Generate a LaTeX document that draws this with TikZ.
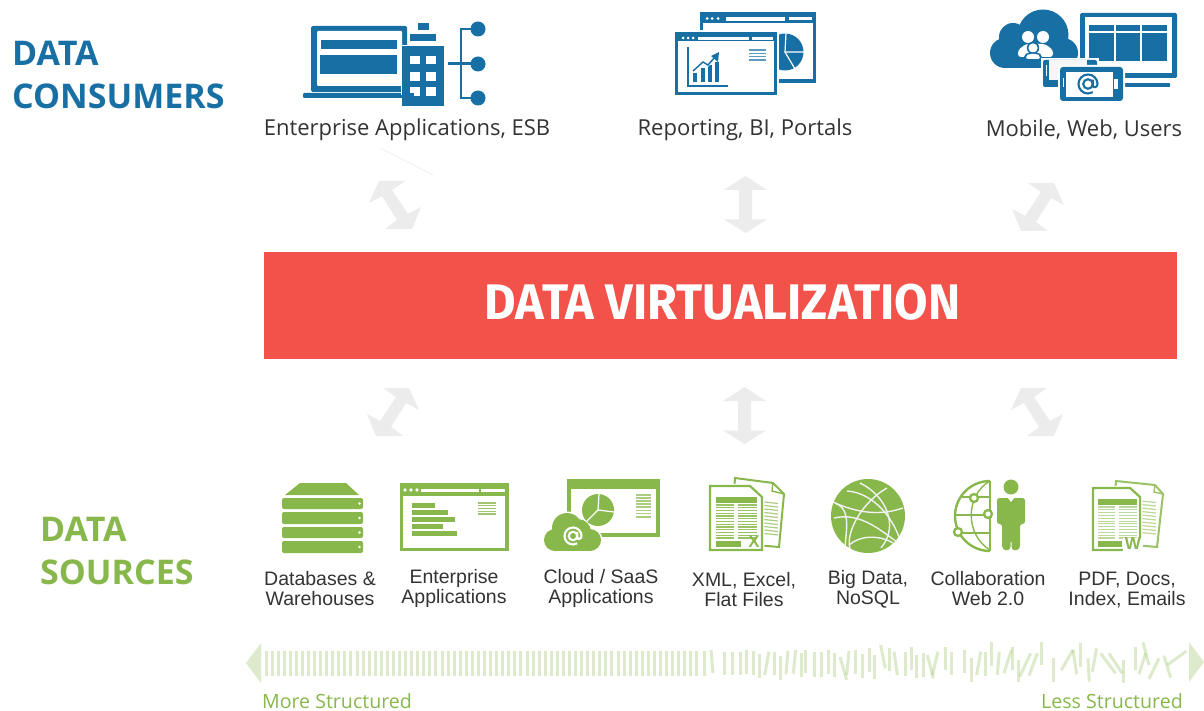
\documentclass[tikz,border=0pt]{standalone}
\usepackage{fontspec}
\setmainfont{Liberation Sans}
\newfontfamily\headf{Open Sans}
\newfontfamily\labf{Open Sans}
\newfontfamily\banf{Fira Sans}
\definecolor{cblue}{HTML}{176FA4}
\definecolor{cgreen}{HTML}{88B84B}
\definecolor{cred}{HTML}{F2524A}
\definecolor{carrow}{HTML}{ECECEC}
\definecolor{ctext}{HTML}{333333}
\newcommand{\stripes}[6]{% x1 y1 x2 y2 n colour
  \foreach \i in {0,...,#5}{\pgfmathsetmacro{\yy}{#2+\i*(#4-#2)/#5}\draw[#6,line width=1.1] (#1,\yy) -- (#3,\yy);}}
\newcommand{\atsign}[4]{% x y scale colour
  \begin{scope}[shift={(#1,#2)},scale=#3]
  \draw[#4,line width=2.1] (0,0) circle (3.4);
  \draw[#4,line width=2.1] (3.4,-3.2) -- (3.4,1.2) .. controls (3.6,3) and (6.8,2.6) .. (6.8,0) arc[start angle=0,end angle=-300,radius=6.8];
  \end{scope}}
\tikzset{
  x=1pt,y=-1pt,
  bf/.style={fill=cblue,draw=none},
  gf/.style={fill=cgreen,draw=none},
  wf/.style={fill=white,draw=none},
  bigarrow/.style={fill=carrow,draw=none},
  wave/.style={draw=cgreen,opacity=.28,line width=3},
  headtext/.style={font=\headf\bfseries\fontsize{34}{38}\selectfont,anchor=west,inner sep=0},
  context/.style={font=\labf\fontsize{22}{26}\selectfont,text=ctext,inner sep=0,anchor=base},
  srctext/.style={font=\fontsize{19.5}{20}\selectfont,text=ctext,align=center,inner sep=0},
  endtext/.style={font=\labf\fontsize{19.6}{22}\selectfont,text=cgreen,inner sep=0,anchor=base},
}
\begin{document}
\begin{tikzpicture}
\useasboundingbox (0,0) rectangle (1204,711);
\fill[white] (0,0) rectangle (1204,711);
% headings
\node[headtext,text=cblue] (hc1) at (12,53) {DATA};
\node[headtext,text=cblue] (hc2) at (12,96) {CONSUMERS};
\node[headtext,text=cgreen] (hs1) at (40,529) {DATA};
\node[headtext,text=cgreen] (hs2) at (40,572) {SOURCES};
% band
\node[fill=cred,minimum width=913,minimum height=107,inner sep=0,anchor=north west] (dv) at (264,252) {};
\node[font=\banf\bfseries\fontsize{50}{54}\selectfont,text=white,inner sep=0] (dvt) at (722.5,302) {\scalebox{0.97}[1]{DATA VIRTUALIZATION}};
% consumer labels
\node[context] (c1) at (407,136) {Enterprise Applications, ESB};
\node[context] (c2) at (745,136) {Reporting, BI, Portals};
\node[context] (c3) at (1084,137) {Mobile, Web, Users};
% faint stroke
\coordinate (fa) at (380,148); \coordinate (fb) at (433,175);
\draw[carrow,line width=.6] (fa) -- (fb);
% arrows
\coordinate (a1) at (395,205);\coordinate (a3) at (1038,207);\coordinate (a4) at (393,412);\coordinate (a6) at (1037,412);
\coordinate (a2) at (745.5,205);\coordinate (a5) at (744.5,416);
\def\diag{(-16,-24) -- (10,-24) -- (-3,-15) -- (13,9) -- (26,2) -- (17,24) -- (-10,24) -- (2,15) -- (-13,-9) -- (-26,-2) -- cycle}
\def\vert{(0,-29) -- (21.5,-15) -- (6.5,-15) -- (6.5,14.5) -- (21.5,14.5) -- (0,28) -- (-21.5,14.5) -- (-6.5,14.5) -- (-6.5,-15) -- (-21.5,-15) -- cycle}
\begin{scope}[shift={(a1)}]\fill[bigarrow] \diag;\end{scope}
\begin{scope}[shift={(a3)},xscale=-1]\fill[bigarrow] \diag;\end{scope}
\begin{scope}[shift={(a4)},xscale=-1]\fill[bigarrow] \diag;\end{scope}
\begin{scope}[shift={(a6)}]\fill[bigarrow] \diag;\end{scope}
\begin{scope}[shift={(a2)}]\fill[bigarrow] \vert;\end{scope}
\begin{scope}[shift={(a5)}]\fill[bigarrow] \vert;\end{scope}

% ---- enterprise icon
\fill[bf,rounded corners=1.5] (311,26) rectangle (407,92);
\fill[wf,rounded corners=1] (317,31) rectangle (402,86);
\fill[bf] (321,40) rectangle (397,49);
\fill[bf] (320,55) rectangle (397,74);
\fill[bf,rounded corners=1] (303,93) rectangle (415,98);
\fill[white] (401,45) rectangle (445,95);
\fill[bf] (402,46) rectangle (444,106);
\fill[bf] (410,34) rectangle (436,41);
\fill[bf] (418,23) rectangle (429,30);
\foreach \y/\h in {56/64,72/81,87/96}{
  \fill[wf] (410,\y) rectangle (420,\h);
  \fill[wf] (426,\y) rectangle (436,\h);}
\fill[bf] (403,93) rectangle (414,98);
\draw[cblue,line width=2.2] (478,29) -- (461,29) -- (461,98) -- (478,98);
\draw[cblue,line width=2.2] (448,63.5) -- (478,63.5);
\foreach \y in {29,64,98}{\fill[bf] (478,\y) circle (7.5);}

% ---- reporting icon
\fill[bf] (700,12) rectangle (816,83);
\fill[wf] (703,23) rectangle (813,79);
\foreach \x in {707,712,718}{\fill[wf] (\x,18.5) circle (1.5);}
\fill[wf] (726,17) rectangle (785,21);
\fill[wf] (789,17) rectangle (812,20);
\fill[bf] (785,52) circle (18.5);
\draw[white,line width=1.2] (786,33) -- (785,52) -- (805,52);
\draw[white,line width=1.2] (785,52) -- (795,69);
\fill[white] (673,30) rectangle (779,97);
\fill[bf] (675,32) rectangle (777,95);
\fill[wf] (678,41) rectangle (774,92);
\foreach \x in {683,688,693}{\fill[wf] (\x,38) circle (1.5);}
\fill[wf] (698,37) rectangle (749,40);
\fill[wf] (752,37) rectangle (773,40);
\draw[cblue,line width=1.6] (688,47) -- (688,86) -- (728,86);
\fill[bf] (693,73) rectangle (697,82);
\fill[bf] (701,68) rectangle (705,82);
\fill[bf] (708,65) rectangle (712,82);
\fill[bf] (715,62) rectangle (719,82);
\draw[white,line width=2.6] (693,71) -- (703,62) -- (708,65) -- (716,56);
\draw[cblue,line width=1.4] (693,71) -- (703,62) -- (708,65) -- (715,57);
\fill[bf] (719,52) -- (711,56) -- (718,62) -- cycle;
\stripes{749}{50}{766}{60}{3}{cblue!70}

% ---- mobile icon
\fill[bf,rounded corners=1.5] (1080,13) rectangle (1177,78);
\fill[wf] (1085,17) rectangle (1172,73);
\foreach \x/\e in {1089/1114,1116/1140,1142/1167}{
  \fill[bf] (\x,25) rectangle (\e,31);
  \fill[bf] (\x,33) rectangle (\e,61);}
\fill[bf] (1123,83) rectangle (1170,87);
\foreach \x/\y/\r in {1043/35/25.5,1013/37/14,1005/53/15,1063/53/15}{\fill[white] (\x,\y) circle (\r+1.5);}
\foreach \x/\y/\r in {1043/35/25.5,1013/37/14,1005/53/15,1063/53/15}{\fill[bf] (\x,\y) circle (\r);}
\fill[bf] (1005,45) rectangle (1063,68);
% people
\foreach \x in {1028,1043}{\fill[wf] (\x,37) circle (6);}
\fill[wf,rounded corners=3] (1018,57) -- (1018,50) -- (1026,44) -- (1045,44) -- (1053,50) -- (1053,57) -- cycle;
\fill[bf] (1033,48) circle (6.2);
\fill[wf] (1033,48) circle (4.6);
\fill[bf,rounded corners=2] (1024,60) -- (1024,55) -- (1028,52.5) -- (1038,52.5) -- (1042,55) -- (1042,60) -- cycle;
\fill[wf,rounded corners=2] (1026,59) -- (1026,55.5) -- (1029,54) -- (1037,54) -- (1040,55.5) -- (1040,59) -- cycle;
% tablet
\fill[white] (1041,58) rectangle (1099,89);
\fill[bf,rounded corners=2] (1043,60) rectangle (1097,87);
\fill[carrow!50] (1049,60) rectangle (1087,80);
\fill[wf] (1046,65) rectangle (1047,76);
% phone
\fill[white,rounded corners=2] (1058,65) rectangle (1125,103);
\fill[bf,rounded corners=3] (1060,67) rectangle (1123,101);
\fill[wf] (1066,72) rectangle (1113,97);
\fill[wf] (1114,79) rectangle (1118,89);
\fill[wf] (1063,78) rectangle (1064,87);
\atsign{1088}{84}{1.4}{cblue}

% ---- sources: DB
\fill[gf] (285,495) -- (300,483) -- (346,483) -- (359,495) -- cycle;
\foreach \y/\e in {498/509,512/524,527/538,541/553}{
  \fill[gf,rounded corners=2] (282,\y) rectangle (363,\e);
  \pgfmathsetmacro{\m}{(\y+\e)/2}
  \fill[wf] (359.5,\m) circle (1.3);}
% enterprise apps
\fill[gf] (400,483) rectangle (509,551);
\fill[wf] (403,496) rectangle (505,548);
\foreach \x in {405,411,417}{\fill[wf] (\x,490) circle (1.8);}
\fill[wf] (421,489) rectangle (479,492);
\fill[wf] (481,489) rectangle (505,492);
\foreach \y/\e in {503/435,510/448,517/455,524/443,531/457}{\fill[gf] (412,\y) rectangle (\e,\y+5);}
\stripes{478}{503}{496}{514}{4}{cgreen!80}
% cloud saas
\fill[gf] (567,479) rectangle (660,537);
\fill[wf] (571,489) rectangle (656,533);
\fill[gf] (598,510) circle (16);
\draw[white,line width=1.2] (599,494) -- (598,510) -- (614,512);
\draw[white,line width=1.2] (598,510) -- (586,522);
\stripes{636}{495}{651}{504}{3}{cgreen!70}
\stripes{636}{507}{651}{517}{3}{cgreen!70}
\foreach \x/\y/\r in {567/528/15,555/540/11,590/540/11}{\fill[white] (\x,\y) circle (\r+1.5);}
\foreach \x/\y/\r in {567/528/15,555/540/11,590/540/11,578/532/13}{\fill[gf] (\x,\y) circle (\r);}
\fill[gf] (555,535) rectangle (590,551);
\atsign{573}{536}{1.25}{white}
% XML doc
\draw[cgreen,line width=2,fill=white,line join=miter] (735,478) -- (773,483) -- (784,494) -- (779,547) -- (730,543) -- cycle;
\draw[cgreen,line width=1.4] (773,483) -- (772,491) -- (784,494);
\foreach \i in {0,...,9}{\draw[cgreen!70,line width=1.2] (764,{502+\i*3.5}) -- (778,{503.5+\i*3.5});}
\draw[white,line width=4.5] (710,486) -- (750,486) -- (762,497) -- (762,550);
\draw[cgreen,line width=2.2,fill=white] (710,486) -- (750,486) -- (762,497) -- (762,550) -- (710,550) -- cycle;
\fill[gf] (716,497) rectangle (757,503);
\stripes{716}{505}{734}{538}{12}{cgreen!85}
\stripes{738}{505}{757}{538}{12}{cgreen!85}
\fill[gf] (716,541) rectangle (741,547);
\node[font=\bfseries\fontsize{17}{17}\selectfont,text=cgreen,inner sep=0] (xl) at (754,542) {X};
% Globe
\fill[gf] (868,516) circle (37);
\begin{scope}[white!95!black,line width=1.4]
\draw (833,502) .. controls (857,513) and (880,516) .. (903,508);
\draw (834,518) .. controls (860,512) and (880,530) .. (897,542);
\draw (847,491) .. controls (875,493) and (893,520) .. (899,537);
\draw (860,483) .. controls (885,495) and (900,525) .. (881,548);
\draw (887,488) .. controls (865,500) and (845,530) .. (850,549);
\draw (849,545) .. controls (860,535) and (880,535) .. (893,543);
\draw (835,503) .. controls (848,508) and (848,520) .. (845,546);
\end{scope}
% Collaboration
\begin{scope}[cgreen,line width=2.4]
\draw (990,481) arc[start angle=-90,end angle=-270,radius=35];
\draw[line width=1.4] (990,481) .. controls (965,495) and (965,535) .. (990,550);
\draw[line width=2.4] (990,480.5) -- (990,551);
\draw[line width=1.4] (961,497) -- (990,497);
\draw[line width=1.4] (955,515) -- (990,515);
\draw[line width=1.4] (961,533) -- (990,533);
\end{scope}
\foreach \x/\y in {974/498,988/514,958/532}{
  \fill[gf] (\x,\y) circle (5.2);
  \fill[wf] (\x,\y) circle (2.6);}
\fill[gf] (1011,487) circle (7.5);
\fill[gf,rounded corners=2.5] (997,498) -- (1025,498) -- (1025,524) -- (1020,524) -- (1020,548) -- (1016,551) -- (1011.5,549) -- (1011.5,540) -- (1010.5,540) -- (1010.5,549) -- (1006,551) -- (1002,548) -- (1002,524) -- (997,524) -- cycle;
\fill[wf] (1007,497) -- (1015,497) -- (1011,502) -- cycle;
% Word doc
\draw[cgreen!85,line width=2,fill=white] (1116,481) -- (1155,485) -- (1163,494) -- (1157,547) -- (1111,543) -- cycle;
\draw[cgreen!85,line width=1.4] (1155,485) -- (1154,492) -- (1163,494);
\foreach \i in {0,...,9}{\draw[cgreen!55,line width=1.2] (1141,{501+\i*3.5}) -- (1156,{502.5+\i*3.5});}
\draw[white,line width=4.5] (1093,488) -- (1130,488) -- (1140,497) -- (1140,550);
\draw[cgreen,line width=2.2,fill=white] (1093,488) -- (1130,488) -- (1140,497) -- (1140,550) -- (1093,550) -- cycle;
\fill[gf] (1098,499) rectangle (1137,505);
\stripes{1098}{507}{1115}{538}{11}{cgreen!55}
\stripes{1119}{507}{1137}{538}{11}{cgreen!55}
\fill[gf] (1098,541) rectangle (1122,547);
\fill[white] (1123,538) rectangle (1143,552);
\node[font=\bfseries\fontsize{17}{17}\selectfont,text=cgreen,inner sep=0] (wl) at (1133,544) {W};
% source labels
\node[srctext] (s1) at (320,589) {Databases \&\\Warehouses};
\node[srctext] (s2) at (454,588) {Enterprise\\Applications};
\node[srctext] (s3) at (601,588) {Cloud / SaaS\\Applications};
\node[srctext] (s4) at (744,590) {XML, Excel,\\Flat Files};
\node[srctext] (s5) at (868,589) {Big Data,\\NoSQL};
\node[srctext] (s6) at (988,589) {Collaboration\\Web 2.0};
\node[srctext] (s7) at (1127,590) {PDF, Docs,\\Index, Emails};
% wave
\foreach \x in {0,...,71}{\draw[wave] ({266+\x*6.07},651) -- ({266+\x*6.07},676);}
\draw[wave] (704.5,651) -- (704.5,676);
\draw[wave] (711,650) -- (713,673);
\begin{scope}[shift={(724,635)},x=.3333pt,y=-.3333pt]
\foreach \a/\b/\c/\d in {2/52/2/120,24/52/24/120,50/50/50/120,66/44/66/116,88/48/88/120,107/58/107/130,135/50/122/120,150/50/150/120,168/64/168/135,192/47/186/118,215/45/208/116,232/55/232/125,245/45/245/115,271/52/271/125,292/52/292/125,312/44/312/116,332/54/332/125,348/66/368/135,375/48/368/120,395/44/395/116,415/58/415/130,436/40/436/110,452/60/452/132,470/30/484/100,497/38/497/108,510/50/520/120,545/50/545/122,564/35/564/105,578/60/578/130,598/55/598/125,610/60/628/130,642/50/625/120,664/35/664/105,682/50/682/120,722/45/722/115,743/70/743/140,770/50/758/120,785/52/785/122,804/22/804/92,826/50/820/120,866/35/866/105,862/45/840/115,885/74/885/142,920/55/887/125,940/55/915/122,953/20/953/90,989/70/989/140,1047/45/1012/105,1047/45/1058/118,1070/25/1070/95,1118/40/1105/110,1092/70/1096/140,1130/55/1175/115,1155/55/1195/115,1199/75/1199/145,1236/35/1236/105,1257/22/1275/90,1265/55/1245/118,1305/70/1275/132,1320/62/1340/128,1388/48/1330/90}{
  \draw[wave] (\a,\b) -- (\c,\d);}
\end{scope}
\fill[cgreen,opacity=.28] (261,643) -- (246,663) -- (261,683) -- cycle;
\fill[cgreen,opacity=.28] (1189,642) -- (1204,662) -- (1189,682) -- cycle;
\node[endtext] (ms) at (337,708) {More Structured};
\node[endtext] (ls) at (1112,708) {Less Structured};
\end{tikzpicture}
\end{document}
